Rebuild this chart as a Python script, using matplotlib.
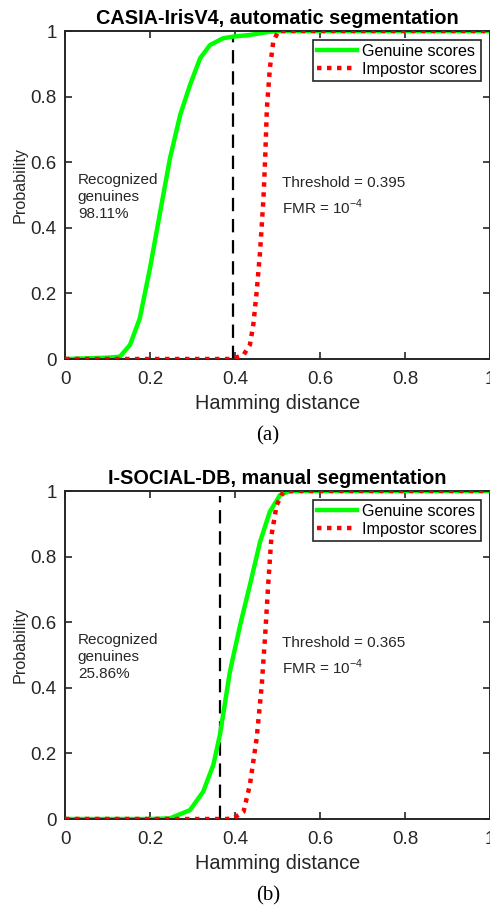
import matplotlib
matplotlib.use("Agg")
import matplotlib.pyplot as plt

plt.rcParams["font.family"] = ["Liberation Sans", "DejaVu Sans"]

# --- (a) CASIA-IrisV4, automatic segmentation ---
gen_a_x = [0, 0.10, 0.129, 0.153, 0.176, 0.20, 0.224, 0.247, 0.271, 0.294, 0.318, 0.341, 0.372, 0.396, 0.435, 0.482, 0.506, 1.0]
gen_a_y = [0, 0.004, 0.007, 0.043, 0.124, 0.277, 0.449, 0.612, 0.744, 0.835, 0.917, 0.957, 0.978, 0.983, 0.988, 0.998, 1.0, 1.0]
imp_a_x = [0, 0.39, 0.396, 0.42, 0.435, 0.443, 0.451, 0.459, 0.467, 0.471, 0.475, 0.482, 0.49, 0.502, 1.0]
imp_a_y = [0, 0, 0.002, 0.012, 0.043, 0.104, 0.205, 0.327, 0.49, 0.612, 0.764, 0.886, 0.967, 1.0, 1.0]
thr_a = 0.395
rec_a = "98.11%"

# --- (b) I-SOCIAL-DB, manual segmentation ---
gen_b_x = [0, 0.20, 0.247, 0.294, 0.325, 0.349, 0.365, 0.388, 0.412, 0.435, 0.459, 0.482, 0.506, 0.529, 1.0]
gen_b_y = [0, 0, 0.002, 0.027, 0.083, 0.165, 0.26, 0.449, 0.591, 0.713, 0.845, 0.937, 0.988, 1.0, 1.0]
imp_b_x = [0, 0.38, 0.396, 0.42, 0.435, 0.451, 0.463, 0.471, 0.478, 0.486, 0.498, 0.514, 0.537, 1.0]
imp_b_y = [0, 0, 0.002, 0.022, 0.104, 0.246, 0.409, 0.561, 0.713, 0.866, 0.957, 0.998, 1.0, 1.0]
thr_b = 0.365
rec_b = "25.86%"

panels = [
    ("CASIA-IrisV4, automatic segmentation", gen_a_x, gen_a_y, imp_a_x, imp_a_y, thr_a, rec_a, "(a)"),
    ("I-SOCIAL-DB, manual segmentation", gen_b_x, gen_b_y, imp_b_x, imp_b_y, thr_b, rec_b, "(b)"),
]

W, H = 490, 907
fig = plt.figure(figsize=(W / 100, H / 100), dpi=100)
# axes boxes in pixels: (left, top, right, bottom)
boxes = [(65, 31, 490, 359), (65, 491, 490, 819)]
ink = "#262626"

for (title, gx, gy, ix, iy, thr, rec, tag), (l, t, r, b) in zip(panels, boxes):
    ax = fig.add_axes([l / W, 1 - b / H, (r - l) / W, (b - t) / H])
    ax.plot(gx, gy, "-", color="#00ff00", lw=3.2, label="Genuine scores", zorder=2)
    ax.plot(ix, iy, color="#ff0000", lw=3.2, ls=(0, (1, 1.25)),
            dash_capstyle="butt", label="Impostor scores", zorder=3)
    ax.plot([thr, thr], [0, 0.985], color="black", lw=1.6, ls=(0, (6, 3.5)), zorder=1)
    ax.set_xlim(0, 1)
    ax.set_ylim(0, 1)
    ax.set_xticks([0, 0.2, 0.4, 0.6, 0.8, 1])
    ax.set_xticklabels(["0", "0.2", "0.4", "0.6", "0.8", "1"])
    ax.set_yticks([0, 0.2, 0.4, 0.6, 0.8, 1])
    ax.set_yticklabels(["0", "0.2", "0.4", "0.6", "0.8", "1"])
    ax.tick_params(direction="in", top=True, right=True, length=5, width=1.2,
                   labelsize=13.5, colors=ink)
    ax.tick_params(axis="x", pad=9)
    ax.tick_params(axis="y", pad=6)
    for sp in ax.spines.values():
        sp.set_linewidth(1.4)
        sp.set_color(ink)
    ax.set_xlabel("Hamming distance", fontsize=14.3, color=ink, labelpad=4)
    ax.set_ylabel("Probability", fontsize=11.6, color=ink)
    ax.yaxis.set_label_coords(-0.089, 0.53)
    ax.set_title(title, fontsize=14.3, fontweight="bold", pad=5)
    leg = ax.legend(loc="upper right", fontsize=11.6, fancybox=False, framealpha=1,
                    edgecolor=ink, handlelength=2.5, borderpad=0.25,
                    labelspacing=0.2, handletextpad=0.3, borderaxespad=0.55)
    leg.get_frame().set_linewidth(1.2)
    ax.text(0.03, 0.567, "Recognized\ngenuines\n" + rec, fontsize=11, va="top",
            ha="left", linespacing=1.25, color=ink)
    ax.text(0.51, 0.537, f"Threshold = {thr}", fontsize=11, va="center", color=ink)
    ax.text(0.51, 0.463, r"FMR = 10$^{\mathregular{-4}}$", fontsize=11, va="center",
            color=ink)
    fig.text(268 / W, 1 - (b + 77) / H, tag, ha="center", va="center",
             fontsize=15, family=["Liberation Serif", "DejaVu Serif"])

fig.savefig("out.png", dpi=100)
